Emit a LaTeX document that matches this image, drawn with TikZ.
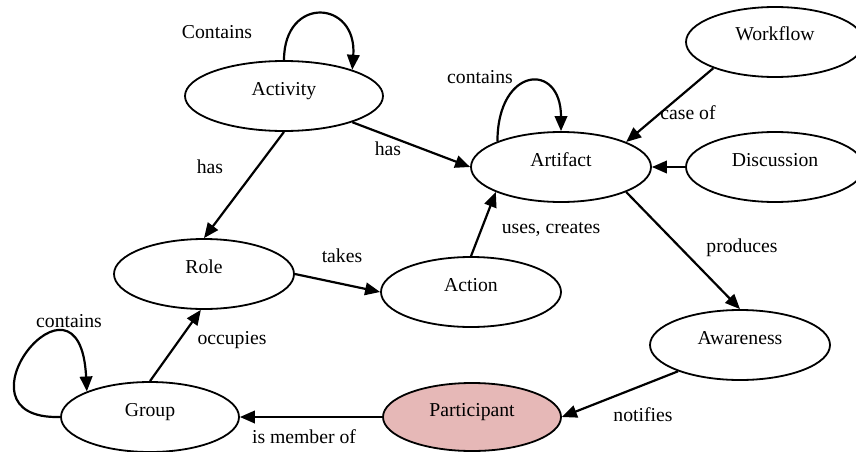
\documentclass[tikz,border=0pt]{standalone}
\usepackage{fontspec}
\setmainfont{Liberation Serif}
\usetikzlibrary{arrows.meta, shapes.geometric}

\begin{document}
\begin{tikzpicture}[
    % GLOBAL CFG
    x=1pt, y=-1pt,
    font=\fontsize{19.7}{22}\selectfont,
    >={Triangle[length=15pt, width=12.5pt]},
    % Styles
    concept/.style={% For the ellipses
        ellipse,
        draw,
        line width=1.8pt,
        inner sep=0pt,
        minimum width=180pt,
        minimum height=70pt,
        text height=13pt,
        text depth=15pt,
        },
    actor/.style={% For the highlighted one
        concept,
        fill=pink1,
        },
    rel/.style={% For the edge texts
        inner sep=0pt,
        },
    edge/.style={% Arrows
        ->,
        line width=2.2pt,
        },
    ]
\definecolor{pink1}{HTML}{E6B8B7}

\clip (0,0) rectangle (856,452);

% Draw the concepts
    \node[concept, minimum width=198pt] (activity) at (284,96) {Activity};
    \node[concept] (artifact) at (561,167) {Artifact};
    \node[concept, minimum width=178pt] (workflow) at (775,42) {Workflow};
    \node[concept, minimum width=178pt] (discussion) at (775,167) {Discussion};
    \node[concept] (role) at (204,274) {Role};
    \node[concept] (action) at (471,292) {Action};
    \node[concept] (awareness) at (740,345) {Awareness};
    \node[concept, minimum width=178pt] (group) at (150,417) {Group};
    \node[actor, minimum width=178pt, minimum height=68pt] (participant) at (472,417) {Participant};

% Edge texts
    \node[rel] (t_contains1) at (217,32) {Contains};
    \node[rel] (t_has1) at (210,167) {has};
    \node[rel] (t_has2) at (388,149) {has};
    \node[rel] (t_contains2) at (480,77) {contains};
    \node[rel] (t_caseof) at (688,113) {case of};
    \node[rel] (t_uses) at (551,229) {uses, creates};
    \node[rel] (t_takes) at (342,256) {takes};
    \node[rel] (t_produces) at (742,248) {produces};
    \node[rel] (t_occupies) at (232,340) {occupies};
    \node[rel] (t_contains3) at (69,321) {contains};
    \node[rel] (t_notifies) at (643,415) {notifies};
    \node[rel] (t_member) at (304,437) {is member of};

% Start connecting all.
    % Loops
    \draw [edge] (activity.north) .. controls +(0,-65) and +(5,-70) .. (activity.21);
    \draw [edge] (artifact.158) .. controls +(0,-75) and +(0,-70) .. (artifact.north);
    \draw [edge] (group.west) .. controls (-55,420) and (80,250) .. (group.158);

    % Between concepts
    \draw [edge] (activity.south) -- (role.north);
    \draw [edge] (activity.-21) -- (artifact.west);
    \draw [edge] (workflow.203) -- (artifact.21);
    \draw [edge] (discussion.west) -- (artifact.east);
    \draw [edge] (artifact.-21) -- (awareness.north);
    \draw [edge] (action.north) -- (artifact.201);
    \draw [edge] (role.east) -- (action.west);
    \draw [edge] (group.north) -- (role.265);
    \draw [edge] (awareness.203) -- (participant.east);
    \draw [edge] (participant.west) -- (group.east);

\end{tikzpicture}
\end{document}
